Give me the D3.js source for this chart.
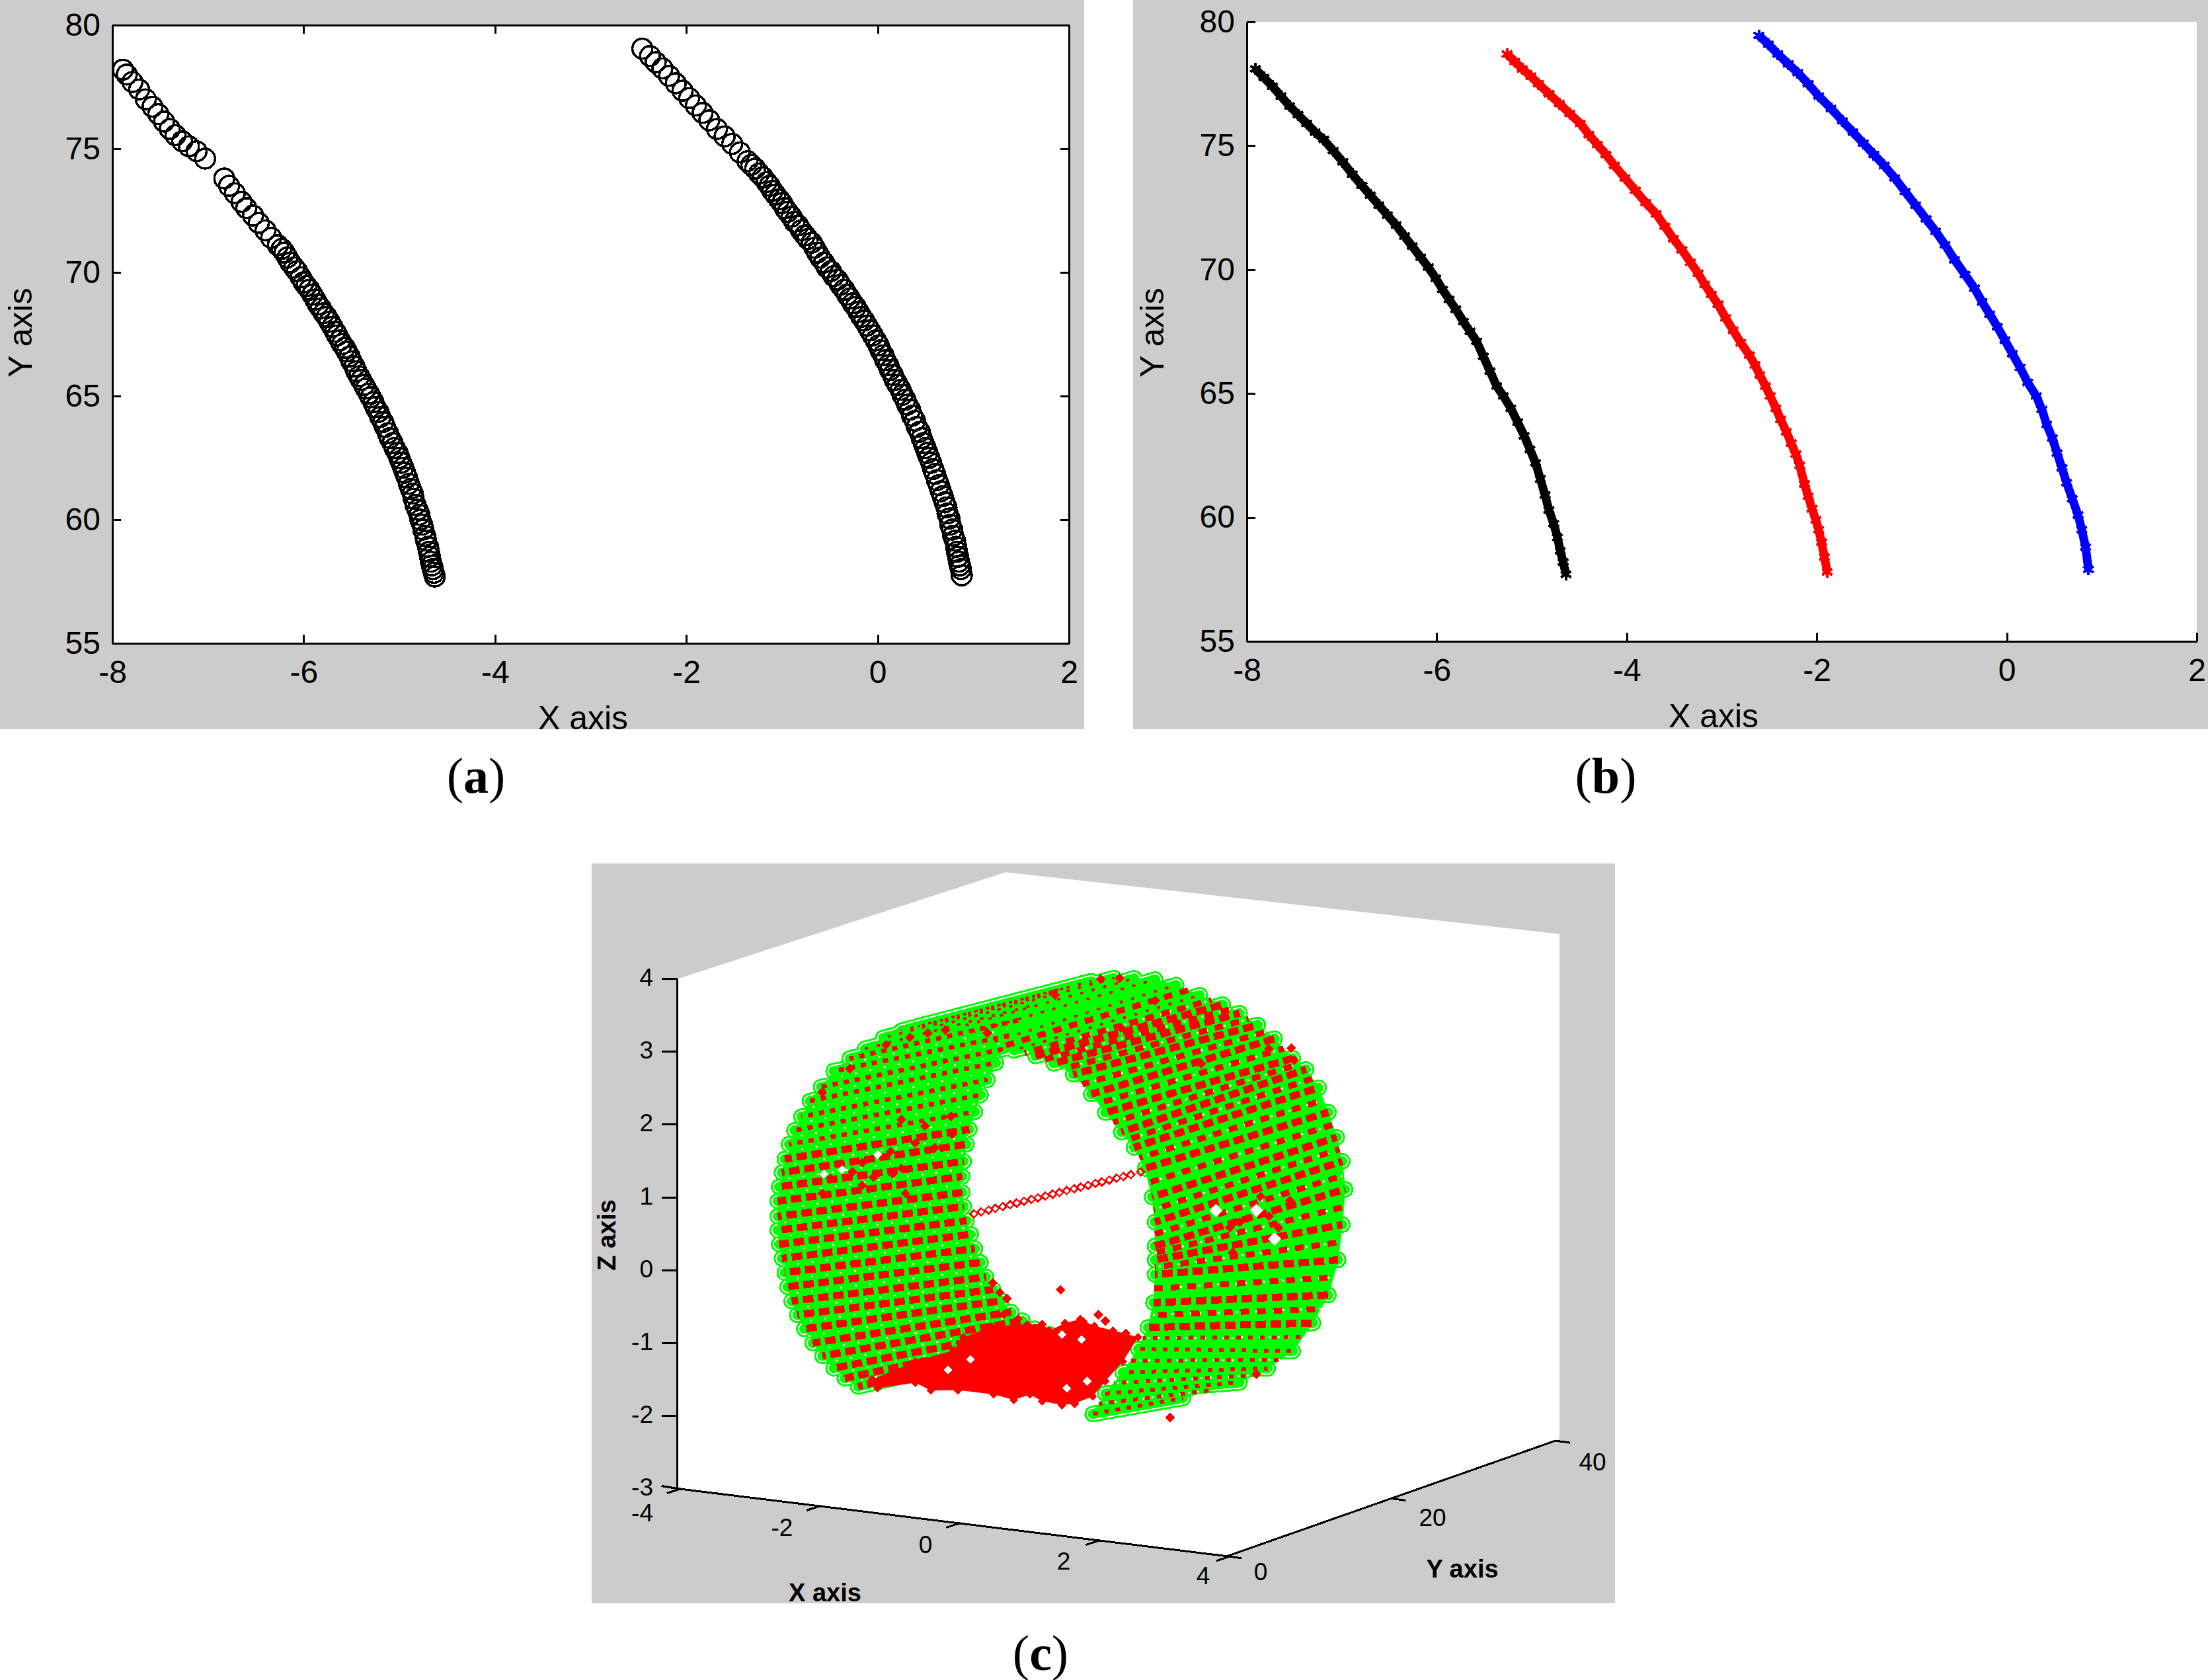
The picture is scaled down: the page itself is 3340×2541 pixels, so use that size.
<!DOCTYPE html>
<html><head><meta charset="utf-8">
<style>html,body{margin:0;padding:0;background:#fff}svg{display:block}</style>
<script src="https://cdn.jsdelivr.net/npm/d3@7"></script></head><body>
<script>
// Panel (a)
const aLeftX=[-7.89,-7.85,-7.79,-7.72,-7.65,-7.58,-7.52,-7.46,-7.40,-7.34,-7.27,-7.20,-7.12,-7.03,-6.83,-6.78,-6.72,-6.65,-6.60,-6.53,-6.47,-6.40,-6.34,-6.27,-6.23,-6.20,-6.17,-6.14,-6.10,-6.07,-6.03,-6.00,-5.97,-5.94,-5.91,-5.88,-5.85,-5.82,-5.79,-5.76,-5.73,-5.70,-5.67,-5.65,-5.62,-5.60,-5.57,-5.55,-5.52,-5.50,-5.47,-5.45,-5.42,-5.40,-5.37,-5.35,-5.32,-5.30,-5.27,-5.25,-5.22,-5.20,-5.17,-5.15,-5.12,-5.10,-5.07,-5.05,-5.02,-5.00,-4.98,-4.96,-4.94,-4.92,-4.90,-4.88,-4.86,-4.85,-4.83,-4.81,-4.79,-4.78,-4.76,-4.75,-4.73,-4.72,-4.70,-4.69,-4.68,-4.67,-4.66,-4.65,-4.64,-4.63];
const aLeftY=[78.2,78.0,77.7,77.4,77.0,76.7,76.4,76.1,75.8,75.55,75.3,75.1,74.9,74.6,73.8,73.5,73.2,72.85,72.6,72.3,72.0,71.7,71.4,71.1,70.95,70.8,70.6,70.4,70.2,70.05,69.8,69.6,69.45,69.3,69.1,68.9,68.7,68.55,68.35,68.2,68.0,67.8,67.6,67.45,67.25,67.1,66.95,66.8,66.6,66.4,66.2,66.0,65.8,65.65,65.45,65.3,65.1,64.95,64.75,64.55,64.35,64.15,63.95,63.75,63.5,63.3,63.1,62.9,62.7,62.5,62.3,62.1,61.9,61.7,61.45,61.25,61.05,60.85,60.6,60.4,60.2,60.0,59.8,59.6,59.35,59.15,58.9,58.7,58.5,58.3,58.15,58.0,57.85,57.7];
const aRightX=[-2.46,-2.38,-2.32,-2.25,-2.18,-2.11,-2.04,-1.97,-1.90,-1.83,-1.76,-1.68,-1.60,-1.52,-1.44,-1.36,-1.32,-1.28,-1.24,-1.20,-1.16,-1.13,-1.10,-1.07,-1.03,-1.00,-.97,-.94,-.90,-.87,-.83,-.80,-.76,-.73,-.69,-.66,-.63,-.60,-.56,-.53,-.49,-.46,-.42,-.39,-.35,-.32,-.29,-.26,-.23,-.20,-.17,-.14,-.11,-.08,-.05,-.02,.01,.03,.06,.08,.11,.13,.16,.18,.21,.24,.26,.29,.31,.34,.36,.39,.41,.44,.46,.48,.50,.52,.54,.56,.58,.60,.62,.64,.66,.68,.70,.72,.73,.75,.76,.78,.79,.81,.82,.83,.84,.85,.86,.87,.88];
const aRightY=[79.05,78.75,78.5,78.25,77.95,77.65,77.35,77.05,76.75,76.45,76.15,75.8,75.5,75.2,74.85,74.5,74.35,74.2,74.0,73.85,73.65,73.5,73.3,73.15,72.95,72.8,72.6,72.45,72.25,72.05,71.9,71.7,71.5,71.35,71.2,71.0,70.8,70.6,70.4,70.2,70.05,69.85,69.7,69.5,69.3,69.1,68.95,68.75,68.6,68.4,68.2,68.05,67.85,67.65,67.45,67.25,67.05,66.85,66.65,66.45,66.25,66.05,65.85,65.65,65.45,65.25,65.05,64.85,64.65,64.45,64.2,64.0,63.75,63.55,63.3,63.1,62.9,62.7,62.5,62.3,62.05,61.85,61.6,61.4,61.15,60.95,60.7,60.5,60.25,60.05,59.8,59.6,59.35,59.15,58.9,58.7,58.5,58.3,58.15,58.0,57.75];
// Panel (b)
const bBlackX=[-7.91,-7.82,-7.73,-7.64,-7.55,-7.46,-7.37,-7.28,-7.19,-7.09,-6.99,-6.89,-6.79,-6.70,-6.61,-6.52,-6.43,-6.34,-6.26,-6.17,-6.09,-6.01,-5.94,-5.87,-5.80,-5.72,-5.65,-5.58,-5.51,-5.44,-5.37,-5.30,-5.22,-5.15,-5.08,-5.02,-4.96,-4.91,-4.86,-4.82,-4.77,-4.73,-4.70,-4.67,-4.64];
const bBlackY=[78.1,77.75,77.4,77.0,76.6,76.25,75.9,75.55,75.25,74.8,74.35,73.85,73.4,73.0,72.6,72.2,71.8,71.35,70.95,70.5,70.1,69.65,69.2,68.8,68.4,67.9,67.5,67.1,66.5,65.9,65.3,64.9,64.4,63.85,63.3,62.75,62.2,61.55,60.9,60.3,59.75,59.2,58.65,58.2,57.7];
const bRedX=[-5.26,-5.18,-5.10,-5.01,-4.93,-4.82,-4.71,-4.60,-4.49,-4.40,-4.31,-4.22,-4.13,-4.02,-3.91,-3.80,-3.69,-3.60,-3.51,-3.42,-3.33,-3.25,-3.18,-3.11,-3.04,-2.96,-2.88,-2.80,-2.71,-2.65,-2.60,-2.54,-2.49,-2.43,-2.38,-2.32,-2.27,-2.22,-2.18,-2.13,-2.09,-2.05,-2.01,-1.98,-1.95,-1.92,-1.89];
const bRedY=[78.7,78.4,78.1,77.8,77.5,77.1,76.7,76.3,75.9,75.45,75.05,74.65,74.2,73.7,73.2,72.7,72.25,71.75,71.25,70.8,70.3,69.85,69.4,69.0,68.6,68.05,67.55,67.05,66.55,66.15,65.75,65.3,64.9,64.4,63.95,63.45,63.0,62.55,62.1,61.35,60.85,60.35,59.9,59.5,59.0,58.4,57.8];
const bBlueX=[-2.61,-2.51,-2.41,-2.30,-2.20,-2.09,-1.98,-1.85,-1.73,-1.62,-1.51,-1.40,-1.29,-1.18,-1.07,-.96,-.85,-.75,-.65,-.55,-.44,-.34,-.26,-.18,-.10,-.02,.06,.14,.22,.31,.37,.42,.48,.53,.58,.63,.69,.75,.79,.83,.86];
const bBlueY=[79.45,79.1,78.7,78.3,77.95,77.5,77.0,76.5,76.0,75.55,75.1,74.65,74.2,73.7,73.15,72.6,72.05,71.55,71.0,70.4,69.8,69.25,68.7,68.2,67.7,67.15,66.6,66.05,65.45,64.9,64.35,63.75,63.2,62.6,62.0,61.4,60.75,60.1,59.5,58.8,57.9];
// Ticks
const planeXTicks=[-8,-6,-4,-2,0,2], planeYTicks=[55,60,65,70,75,80];
const cXTicks=[-4,-2,0,2,4], cYTicks=[0,20,40], cZTicks=[-3,-2,-1,0,1,2,3,4];
// Panel (c): scan lines of the tube, read at the near (y=5) and far (y=28) ends
const nearY=5, farY=28;
const nearX=[2.25,2.25,2.21,2.11,1.95,1.77,1.54,1.34,1.08,.80,.54,.23,-.07,-.33,-.57,-.87,-1.14,-1.38,-1.64,-1.90,-2.12,-2.35,-2.53,-2.69,-2.81,-2.91,-2.99,-3.05,-3.09,-3.13,-3.15,-3.15,-3.15,-3.13,-3.09,-3.05,-3.01,-2.95,-2.87,-2.77,-2.65,-2.51,-2.35,-2.19,-2.00,1.36,1.54,1.79,2.01,2.15,2.23,2.25,2.25];
const nearZ=[.87,1.20,1.54,1.92,2.19,2.38,2.62,2.85,3.09,3.21,3.28,3.32,3.40,3.51,3.54,3.52,3.49,3.40,3.27,3.09,2.93,2.73,2.49,2.28,2.05,1.85,1.65,1.44,1.25,1.05,.85,.64,.45,.26,.07,-.12,-.31,-.50,-.68,-.86,-1.04,-1.20,-1.35,-1.47,-1.56,-1.54,-1.24,-.92,-.57,-.26,.09,.48,.68];
const farX=[2.27,2.23,2.15,2.03,1.89,1.71,1.52,1.26,1.02,.76,.52,.19,-.15,-.45,-.75,-1.04,-1.36,-1.66,-1.94,-2.17,-2.35,-2.49,-2.59,-2.73,-2.85,-2.95,-3.03,-3.11,-3.15,-3.19,-3.21,-3.21,-3.19,-3.15,-3.09,-3.03,-2.95,-2.87,-2.77,-2.65,-2.51,-2.35,-2.17,-1.96,-1.74,-.05,.76,1.16,1.52,1.81,2.03,2.17,2.23];
const farZ=[.74,1.12,1.44,1.77,2.09,2.32,2.45,2.69,2.85,2.98,3.07,3.16,3.26,3.30,3.28,3.25,3.17,3.06,2.93,2.75,2.53,2.30,2.10,1.89,1.64,1.42,1.18,.93,.72,.48,.27,.05,-.14,-.33,-.51,-.70,-.88,-1.07,-1.23,-1.37,-1.51,-1.61,-1.70,-1.75,-1.77,-2.40,-2.09,-1.85,-1.57,-1.15,-.74,-.24,.25];
// Dense red cloud along the bottom of the tube (y=5)
const cloudX=[-.49,-.09,.42,.64,.74,.96,1.18,1.38,1.65,2.01,1.79,1.54,1.36,1.10,.92,.64,.46,.23,-.06,-.57,-.96,-1.18,-1.72,-1.80,-1.18,-.63];
const cloudZ=[-.71,-.51,-.42,-.39,-.47,-.34,-.26,-.33,-.36,-.41,-.77,-1.07,-1.30,-1.43,-1.47,-1.45,-1.38,-1.48,-1.44,-1.44,-1.49,-1.41,-1.55,-1.44,-1.12,-.90];
// Isolated and clustered red points
const redX=[.90,2.47,1.44,1.54,1.22,1.65,1.83,.09,.29,.13,-.07,.03,1.50,1.54,-1.23,-.96,-1.90,
 -2.08,-1.78,-1.50,-1.54,-1.38,-.67,-.65,-.90,-2.39,-2.51,-1.32,-1.60,-1.26,-1.00,-.75,-.15,.82,-2.51,-2.12,-1.94,-1.18,-1.04,-1.94,-1.38,
 1.18,.62,1.48,.76,1.06,1.32,.66,-.94,-.45,.21,1.18,1.00];
const redY=[5,5,5,5,5,5,5,5,5,5,5,5,28,28,28,28,28,
 5,5,5,5,5,5,5,5,5,5,5,5,5,5,5,5,5,5,5,5,5,5,5,5,
 28,28,28,28,28,28,28,28,28,28,28,28];
const redZ=[.11,-1.46,-.17,-.24,-.29,-.38,-.38,-.32,-.36,-.10,.09,-.03,2.59,2.43,3.21,3.26,2.93,
 1.38,1.34,1.42,1.72,2.18,2.31,2.06,1.85,1.25,1.03,1.17,3.18,3.32,3.41,3.48,3.51,4.15,2.42,2.79,1.52,1.88,2.13,1.21,1.51,
 .24,.02,.49,.11,.50,.10,-.32,2.58,3.01,2.22,2.54,-1.95];
// White gaps among the red points
const gapX=[-2.49,-2.23,-1.72,1.20,.92,-.39,-.71,.99,1.28];
const gapZ=[1.30,1.39,1.66,-.54,-.50,-1.00,-1.18,-1.23,-1.10];
const gapRightX=[1.00,.42,1.26], gapRightZ=[.30,.23,-.06];
// Central line of small open diamonds
const axisLineY=[7.2,8.1,9.0,9.8,10.7,11.6,12.4,13.3,14.2,15.0,15.9,16.8,17.6,18.5,19.4,20.2,21.1,22.0,22.8,23.7,24.6,25.4,26.3,27.5];
const axisLineZ=[.89,.88,.87,.86,.85,.84,.83,.82,.81,.80,.79,.78,.77,.76,.75,.74,.73,.72,.71,.70,.69,.68,.67,.66];
const axisLineX=-0.6;
const wallX=[-4,-4,3.87,3.87,3.87,-4], wallY=[0,40,40.5,40.5,0,0], wallZ=[4,3.88,3.94,-3,-3,-3];

const W=3340,H=2541,k=W/1568,GRAY="#cccccc",SANS="'Liberation Sans',Arial,sans-serif",SERIF="'Liberation Serif','Times New Roman',serif";
const svg=d3.select("body").append("svg").attr("width",W).attr("height",H).attr("viewBox",[0,0,W,H]);
svg.append("rect").attr("width",W).attr("height",H).attr("fill","#fff");
const zip=(a,b)=>a.map((v,i)=>[v,b[i]]);

function panel2d(g,o){
  g.append("rect").attr("x",o.gx).attr("y",0).attr("width",o.gw).attr("height",1103).attr("fill",GRAY);
  const x=d3.scaleLinear([-8,2],[o.left,o.right]), y=d3.scaleLinear([55,80],[o.bottom,o.top]);
  g.append("rect").attr("x",o.left).attr("y",o.top).attr("width",o.right-o.left).attr("height",o.bottom-o.top).attr("fill","#fff");
  const styl=s=>{s.selectAll("path,line").attr("stroke","#000").attr("stroke-width",3).attr("shape-rendering","crispEdges");
    s.selectAll("text").attr("font-family",SANS).attr("font-size",48).attr("fill","#000");};
  const nofill=s=>s.select(".domain").attr("fill","none");
  g.append("g").attr("transform",`translate(0,${o.bottom})`).call(d3.axisBottom(x).tickValues(planeXTicks).tickSize(-13).tickSizeOuter(0).tickPadding(26).tickFormat(String)).call(styl).call(nofill);
  g.append("g").attr("transform",`translate(${o.left},0)`).call(d3.axisLeft(y).tickValues(planeYTicks).tickSize(-13).tickSizeOuter(0).tickPadding(18).tickFormat(String)).call(styl).call(nofill);
  if(o.box){
    g.append("g").attr("transform",`translate(0,${o.top})`).call(d3.axisTop(x).tickValues(planeXTicks).tickSize(-13).tickSizeOuter(0).tickFormat("")).call(styl).call(nofill);
    g.append("g").attr("transform",`translate(${o.right},0)`).call(d3.axisRight(y).tickValues(planeYTicks).tickSize(-13).tickSizeOuter(0).tickFormat("")).call(styl).call(nofill);
  }
  g.append("text").attr("x",o.xl).attr("y",o.xlY).attr("text-anchor","middle").attr("font-family",SANS).attr("font-size",50).attr("fill","#000").text("X axis");
  g.append("text").attr("transform",`translate(${o.yl},${o.ylY}) rotate(-90)`).attr("text-anchor","middle").attr("font-family",SANS).attr("font-size",50).attr("fill","#000").text("Y axis");
  return {x,y};
}
// (a)
const ga=svg.append("g");
const A=panel2d(ga,{gx:0,gw:1640,left:170,right:1617,top:38,bottom:973,box:true,xl:882,xlY:1103,yl:48,ylY:503});
[zip(aLeftX,aLeftY),zip(aRightX,aRightY)].forEach(pts=>{
  ga.append("g").selectAll("circle").data(pts).join("circle").attr("cx",d=>A.x(d[0])).attr("cy",d=>A.y(d[1])).attr("r",15)
    .attr("fill","none").attr("stroke","#000").attr("stroke-width",3.5).attr("shape-rendering","crispEdges");
});
// (b)
const gb=svg.append("g");
const B=panel2d(gb,{gx:1714,gw:1626,left:1886,right:3323,top:33,bottom:970,box:false,xl:2592,xlY:1100,yl:1760,ylY:503});
const ast=d3.symbol(d3.symbolAsterisk,230)();
[[zip(bBlackX,bBlackY),"#000"],[zip(bRedX,bRedY),"#ff0000"],[zip(bBlueX,bBlueY),"#0000ff"]].forEach(([pts,c])=>{
  gb.append("path").attr("fill","none").attr("stroke",c).attr("stroke-width",13).attr("d",d3.line().x(d=>B.x(d[0])).y(d=>B.y(d[1]))(pts));
  gb.append("g").selectAll("path").data(pts).join("path").attr("d",ast).attr("transform",d=>`translate(${B.x(d[0])},${B.y(d[1])})`)
    .attr("fill","none").attr("stroke",c).attr("stroke-width",4).attr("shape-rendering","crispEdges");
});
// (c)
const gc=svg.append("g");
gc.append("rect").attr("x",895).attr("y",1306).attr("width",1548).attr("height",1119).attr("fill",GRAY);
const cx3=d3.scaleLinear([-4,3.87],[0,390.35*k]).clamp(true), cy3=d3.scaleLinear([0,40],[0,233.2*k]), cz3=d3.scaleLinear([-3,4],[0,-361.9*k]);
const tx=6.1/49.6, ty=-2.05/5.83;
const proj=(x,y,z)=>[481*k+cx3(x)+cy3(y), 1057*k+cx3(x)*tx+cy3(y)*ty+cz3(z)];
gc.append("path").attr("fill","#fff").attr("d",d3.line()(wallX.map((x,i)=>proj(x,wallY[i],wallZ[i])))+"Z");
const axisLine=(a,b)=>gc.append("path").attr("stroke","#000").attr("stroke-width",3).attr("fill","none").attr("shape-rendering","crispEdges").attr("d",d3.line()([a,b]));
axisLine(proj(-4,0,4),proj(-4,0,-3));
axisLine(proj(-4,0,-3),proj(4,0,-3));
axisLine(proj(4,0,-3),proj(4,40,-3));
cZTicks.forEach(t=>{const p=proj(-4,0,t);axisLine(p,[p[0]-24,p[1]-(t==-3?4:0)]);});
cXTicks.forEach(t=>{const p=proj(t,0,-3);axisLine([p[0]+6,p[1]],[p[0]-16,p[1]+7]);});
cYTicks.forEach(t=>{const p=proj(4,t,-3);axisLine(p,[p[0]+22,p[1]+3]);});
const ctext=(x,y,t,o={})=>gc.append("text").attr("x",x).attr("y",y).attr("text-anchor",o.anchor||"middle").attr("dominant-baseline","central").attr("font-family",SANS).attr("font-size",o.size||37).attr("font-weight",o.bold?"bold":"normal").attr("fill","#000").text(t);
cZTicks.forEach(t=>ctext(988,proj(-4,0,t)[1]-2,t,{anchor:"end"}));
const xLabelPos=[[988,2288],[1183,2310],[1400,2336],[1609,2361],[1820,2383]];
cXTicks.forEach((t,i)=>ctext(xLabelPos[i][0],xLabelPos[i][1],t,{anchor:i==0?"end":"middle"}));
const yLabelPos=[[1907,2377],[2167,2295],[2409,2211]];
cYTicks.forEach((t,i)=>ctext(yLabelPos[i][0],yLabelPos[i][1],t));
ctext(1248,2409,"X axis",{bold:true,size:38});
ctext(2212,2373,"Y axis",{bold:true,size:38});
gc.append("text").attr("transform","translate(918,1868) rotate(-90)").attr("text-anchor","middle").attr("dominant-baseline","central").attr("font-family",SANS).attr("font-size",38).attr("font-weight","bold").attr("fill","#000").text("Z axis");

// scan lines
const stripes=nearX.map((_,i)=>[proj(nearX[i],nearY,nearZ[i]),proj(farX[i],farY,farZ[i])]);
const BOTTOM=44; // no surface between scan line 44 and 45: the red cloud lies there
const next=i=>(i+1)%stripes.length;
const quads=stripes.map((s,i)=>({i,s,t:stripes[next(i)]})).filter(q=>q.i!==BOTTOM);
const mids=quads.map(q=>({i:q.i,p:[[(q.s[0][0]+q.t[0][0])/2,(q.s[0][1]+q.t[0][1])/2],[(q.s[1][0]+q.t[1][0])/2,(q.s[1][1]+q.t[1][1])/2]]}));
const layer=(w,c)=>gc.append("g").attr("fill","none").attr("stroke-linecap","round").selectAll("path").data(stripes).join("path")
   .attr("d",d=>d3.line()(d)).attr("stroke",c).attr("stroke-width",w).attr("shape-rendering","crispEdges");
layer(25,"#00ff00");
layer(19,"#fff");
gc.append("g").selectAll("path").data(quads).join("path").attr("d",q=>d3.line()([q.s[0],q.s[1],q.t[1],q.t[0]])+"Z").attr("fill","#00ff00").attr("stroke","#00ff00").attr("stroke-width",1);
layer(15,"#00ff00");
// white speckle between scan lines
const isRight=i=>i<=11||i>=45;
const isTop=i=>i>=11&&i<=19;
gc.append("g").attr("fill","none").selectAll("path").data(mids.filter(m=>!isTop(m.i))).join("path").attr("d",m=>d3.line()(m.p))
  .attr("stroke","#fff").attr("stroke-width",m=>isRight(m.i)?3:2.5).attr("stroke-dasharray",m=>isRight(m.i)?"3 11":"3 19").attr("stroke-dashoffset",m=>(m.i*5)%13).attr("shape-rendering","crispEdges");
// extra red blocks in the right half where the rows crowd together
gc.append("g").attr("fill","none").selectAll("path").data(mids.filter(m=>isRight(m.i))).join("path").attr("d",m=>d3.line()(m.p))
  .attr("stroke","#ff0000").attr("stroke-width",m=>m.i>=45&&m.i<=48?6:9).attr("stroke-dasharray",m=>m.i>=45&&m.i<=48?"7 11":"13 12").attr("stroke-dashoffset",m=>(m.i*11)%25).attr("shape-rendering","crispEdges");
// red dashes on each scan line
const fine=i=>i>=11&&i<=19, medium=i=>i>=20&&i<=26, bottomRight=i=>i>=45&&i<=48;
gc.append("g").attr("fill","none").selectAll("path").data(stripes).join("path").attr("d",d=>d3.line()(d))
  .attr("stroke","#ff0000").attr("shape-rendering","crispEdges")
  .attr("stroke-width",(d,i)=>fine(i)?4:medium(i)?7:bottomRight(i)?6:11)
  .attr("stroke-dasharray",(d,i)=>fine(i)?"5 13":medium(i)?"8 9":bottomRight(i)?"7 10":"16 7")
  .attr("stroke-dashoffset",(d,i)=>(i*7)%23);
// gaps
const sym=(s)=>d3.symbol(d3.symbolDiamond2||d3.symbolDiamond,s)();
gc.append("g").selectAll("path").data(gapRightX.map((x,i)=>proj(x,farY,gapRightZ[i]))).join("path").attr("d",sym(260)).attr("transform",d=>`translate(${d})`).attr("fill","#fff");
// cloud
const cloud=cloudX.map((x,i)=>proj(x,nearY,cloudZ[i]));
gc.append("path").attr("d",d3.line()(cloud)+"Z").attr("fill","#ff0000");
gc.append("g").selectAll("path").data(cloud).join("path").attr("d",sym(112)).attr("transform",d=>`translate(${d})`).attr("fill","#ff0000").attr("shape-rendering","crispEdges");
gc.append("g").selectAll("path").data(gapX.map((x,i)=>proj(x,nearY,gapZ[i]))).join("path").attr("d",sym(110)).attr("transform",d=>`translate(${d})`).attr("fill","#fff").attr("shape-rendering","crispEdges");
gc.append("g").selectAll("path").data(redX.map((x,i)=>proj(x,redY[i],redZ[i]))).join("path").attr("d",sym(140)).attr("transform",d=>`translate(${d})`).attr("fill","#ff0000").attr("shape-rendering","crispEdges");
gc.append("g").selectAll("path").data(axisLineY.map((y,i)=>proj(axisLineX,y,axisLineZ[i]))).join("path").attr("d",sym(85)).attr("transform",d=>`translate(${d})`).attr("fill","none").attr("stroke","#ff0000").attr("stroke-width",2.5).attr("shape-rendering","crispEdges");

// captions
const cap=(x,y,l)=>{const t=svg.append("text").attr("x",x).attr("y",y).attr("text-anchor","middle").attr("font-family",SERIF).attr("font-size",76).attr("fill","#000");
  t.append("tspan").text("(");t.append("tspan").attr("font-weight","bold").text(l);t.append("tspan").text(")");};
cap(720,1199,"a");cap(2429,1199,"b");cap(1574,2526,"c");
</script></body></html>
